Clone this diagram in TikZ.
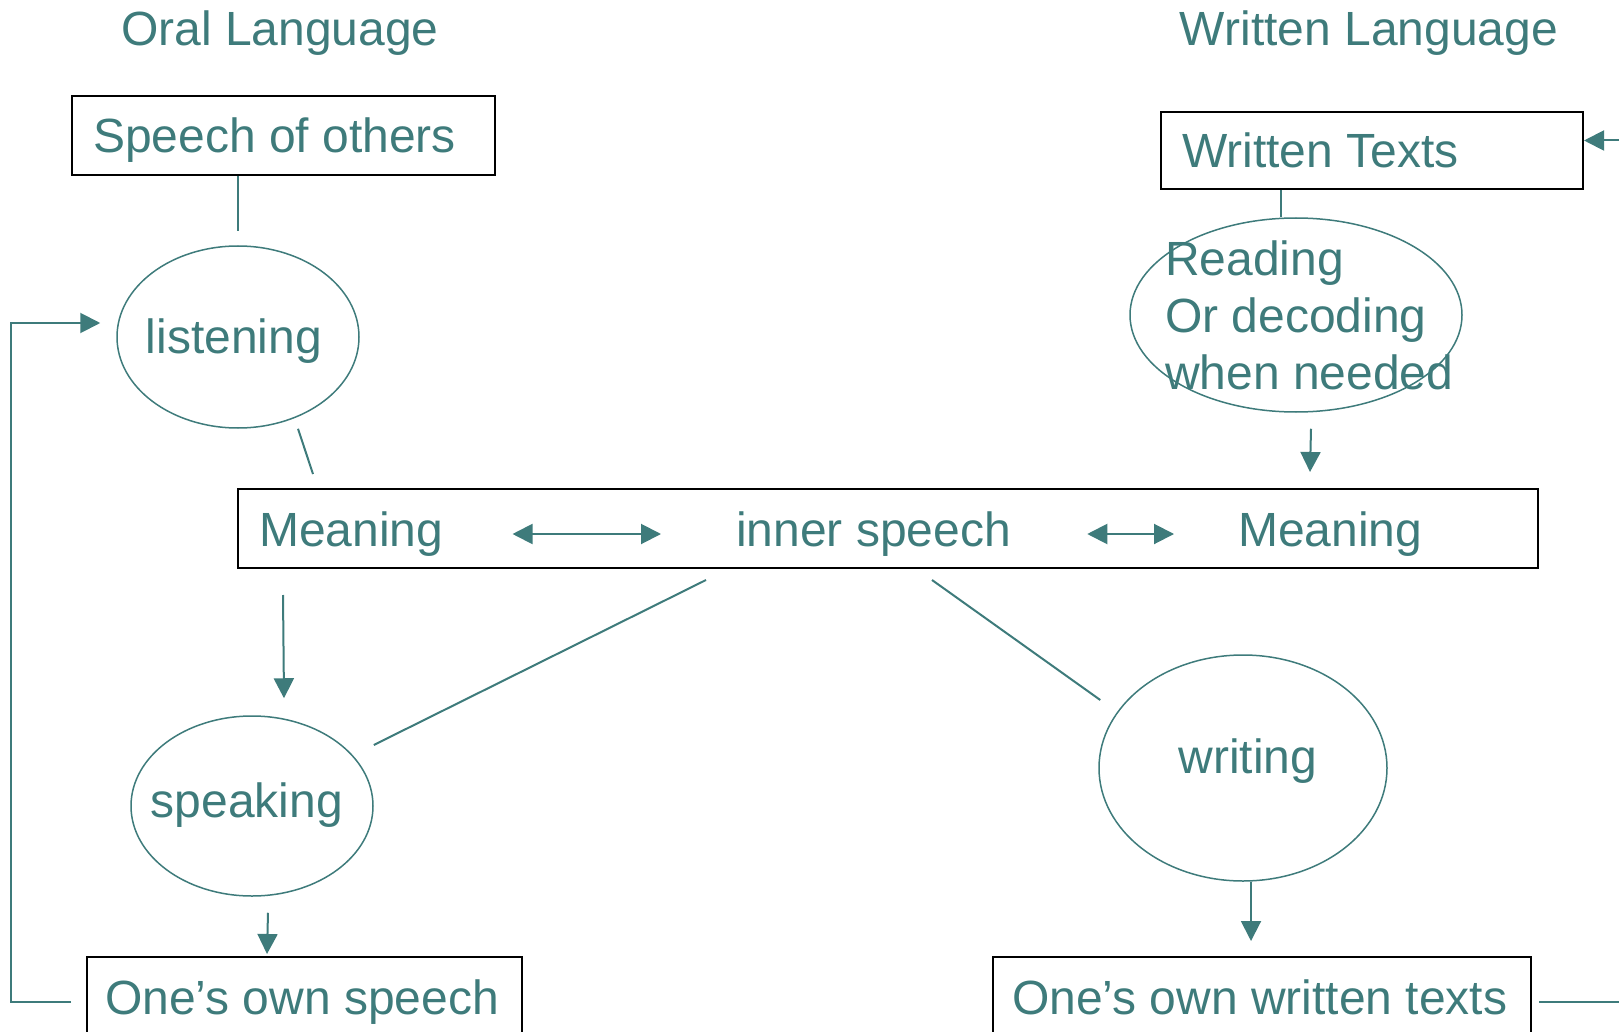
\documentclass[tikz,border=0pt]{standalone}
\usepackage{fontspec}
\setmainfont{Liberation Sans}
\definecolor{TealText}{RGB}{62,123,123}
\usetikzlibrary{positioning, arrows.meta, shapes.geometric, calc}
\newcommand{\boxtext}[1]{\mbox{\spaceskip=0pt\xspaceskip=0pt #1}}

\begin{document}
\begin{tikzpicture}[x=1pt, y=-1pt,
    every node/.style={font=\fontsize{48}{57}\selectfont, text=TealText},
    box/.style={draw=black, line width=2pt, rectangle, align=left, inner ysep=0pt, text depth=0pt},
    oval/.style={draw=TealText, line width=1.5pt, ellipse, inner sep=0pt},
    lbl/.style={inner sep=0pt},
    con/.style={draw=TealText, line width=2pt},
    arr/.style={con, -{Triangle[length=20pt,width=20pt]}},
    darr/.style={con, {Triangle[length=20pt,width=20pt]}-{Triangle[length=20pt,width=20pt]}}]
  \clip (0,0) rectangle (1619,1032);
  % headings
  \node[lbl] (oral) at (280,33.5) {Oral Language};
  \node[lbl] (written) at (1369,33.5) {Written Language};
  % top boxes and ovals
  \node[box, text width=381pt, inner xsep=21pt, minimum height=79pt] (so) at (283.5,135.5) {\boxtext{Speech of others}};
  \node[box, text width=380pt, inner xsep=21pt, minimum height=77pt] (wt) at (1372,150.5) {\boxtext{Written Texts}};
  \node[oval, minimum width=242pt, minimum height=182pt] (li) at (238,337) {};
  \node[lbl] (lit) at (234,341) {listening};
  \node[oval, minimum width=332pt, minimum height=194pt] (rd) at (1296,315) {};
  \node[lbl, align=left, anchor=west] (rdt) at (1165,315) {Reading\\\boxtext{Or decoding}\\\boxtext{when needed}};
  % middle band
  \node[box, minimum width=1300pt, minimum height=79pt, inner sep=0pt] (mb) at (888,528.5) {};
  \node[lbl, anchor=west] (ml) at (259,534) {Meaning};
  \node[lbl, anchor=west] (is) at (736,534) {inner speech};
  \node[lbl, anchor=west] (mr) at (1238,534) {Meaning};
  % bottom ovals and boxes
  \node[oval, minimum width=242pt, minimum height=180pt] (sp) at (252,806) {};
  \node[lbl] (spt) at (247,805) {speaking};
  \node[oval, minimum width=288pt, minimum height=226pt] (wr) at (1243,768) {};
  \node[lbl] (wrt) at (1248,761.5) {writing};
  \node[box, text width=399pt, inner xsep=18pt, minimum height=80pt] (os) at (304.5,997) {\boxtext{One’s own speech}};
  \node[box, text width=500pt, inner xsep=19pt, minimum height=80pt] (ow) at (1262,997) {\boxtext{One’s own written texts}};

  \draw[con] (so.south -| li.north) -- ($(li.north)+(0,-14)$);
  \draw[con] ([xshift=-91pt]wt.south) -- ($(rd.north)+(-15,0)$);
  \draw[con] ($(li.south)+(60,0)$) -- ($(mb.north west)+(76,-14)$);
  \draw[arr] ($(rd.south)+(15,16)$) -- ($(mb.north west)+(1073,-16)$);
  \draw[darr, shorten <=69pt, shorten >=75pt] (ml.east) -- (is.west);
  \draw[darr, shorten <=76pt, shorten >=64pt] (is.east) -- (mr.west);
  \draw[arr] ($(mb.south west)+(46,26)$) -- ($(sp.north)+(32,-17)$);
  \draw[con] ($(sp.east)+(0,-61)$) -- ($(mb.south west)+(469,11)$);
  \draw[con] ($(mb.south west)+(695,11)$) -- ($(wr.west)+(2,-68)$);
  \draw[arr] ($(sp.south)+(16,16)$) -- ($(os.north west)+(181,-2)$);
  \draw[arr] ($(wr.south)+(8,0)$) -- ($(ow.north)+(-11,-15)$);
  % feedback loops
  \draw[arr] ($(os.west)+(-15,5)$) -- ++(-60,0) |- ($(li.west)+(-16,-14)$);
  \draw[arr] ($(ow.east)+(7,5)$) -- ++(120,0) |- ($(wt.east)+(0,-10)$);
\end{tikzpicture}
\end{document}
